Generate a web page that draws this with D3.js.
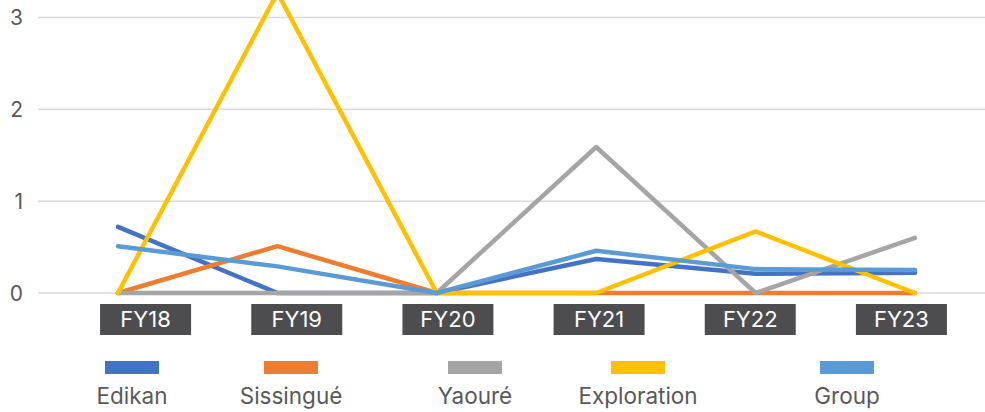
<!DOCTYPE html>
<html>
<head>
<meta charset="utf-8">
<script src="https://cdn.jsdelivr.net/npm/d3@7"></script>
<style>
  html, body { margin: 0; padding: 0; background: #fff; }
  svg { display: block; font-family: Inter, "Open Sans", sans-serif; }
</style>
</head>
<body>
<div id="chart"></div>
<script>
// data
const categories = ['FY18', 'FY19', 'FY20', 'FY21', 'FY22', 'FY23'];
const seriesNames = ['Edikan', 'Sissingué', 'Yaouré', 'Exploration', 'Group'];
const edikan = [0.72, 0, 0, 0.37, 0.21, 0.22];
const sissingue = [0, 0.51, 0, 0, 0, 0];
const yaoure = [0, 0, 0, 1.59, 0, 0.60];
const exploration = [0, 3.27, 0, 0, 0.67, 0];
const group = [0.51, 0.29, 0, 0.46, 0.26, 0.25];
const yTicks = [0, 1, 2, 3];

const colors = ['#4472c4', '#ed7d31', '#a5a5a5', '#ffc000', '#5b9bd5'];
const seriesValues = [edikan, sissingue, yaoure, exploration, group];

const width = 985, height = 412;
const svg = d3.select('#chart').append('svg')
  .attr('width', width)
  .attr('height', height);

const x = d3.scalePoint().domain(categories).range([118, 915]);
const xLabel = d3.scaleBand().domain(categories).range([70, 977]);
const y = d3.scaleLinear().domain([0, 3]).range([293, 17.5]);

// gridlines
svg.append('g')
  .selectAll('line')
  .data(yTicks)
  .enter()
  .append('line')
  .attr('x1', 38)
  .attr('x2', width)
  .attr('y1', d => y(d))
  .attr('y2', d => y(d))
  .attr('stroke', '#d9d9d9')
  .attr('stroke-width', 1.5);

// y labels
svg.append('g')
  .selectAll('text')
  .data(yTicks)
  .enter()
  .append('text')
  .attr('x', 23)
  .attr('y', d => y(d))
  .attr('dy', '0.36em')
  .attr('text-anchor', 'end')
  .attr('font-size', 21)
  .attr('fill', '#595959')
  .text(d => d);

// lines
const line = d3.line()
  .x((d, i) => x(categories[i]))
  .y(d => y(d));

svg.append('g')
  .selectAll('path')
  .data(seriesValues)
  .enter()
  .append('path')
  .attr('d', d => line(d))
  .attr('fill', 'none')
  .attr('stroke', (d, i) => colors[i])
  .attr('stroke-width', 4.5)
  .attr('stroke-linecap', 'round')
  .attr('stroke-linejoin', 'round');

// category label boxes
const labels = svg.append('g')
  .selectAll('g')
  .data(categories)
  .enter()
  .append('g')
  .attr('transform', d => `translate(${xLabel(d) + xLabel.bandwidth() / 2}, 304)`);

labels.append('rect')
  .attr('x', -45.5)
  .attr('width', 91)
  .attr('height', 31)
  .attr('fill', '#4d4d4f');

labels.append('text')
  .attr('y', 15.5)
  .attr('dy', '0.36em')
  .attr('text-anchor', 'middle')
  .attr('font-size', 22)
  .attr('fill', '#fff')
  .text(d => d);

// legend
const legendX = [132, 291, 475, 638, 847];
const legend = svg.append('g')
  .selectAll('g')
  .data(seriesNames)
  .enter()
  .append('g')
  .attr('transform', (d, i) => `translate(${legendX[i]}, 0)`);

legend.append('rect')
  .attr('x', -27)
  .attr('y', 361)
  .attr('width', 54)
  .attr('height', 13)
  .attr('fill', (d, i) => colors[i]);

legend.append('text')
  .attr('y', 404)
  .attr('text-anchor', 'middle')
  .attr('font-size', 22.5)
  .attr('fill', '#595959')
  .text(d => d);
</script>
</body>
</html>
